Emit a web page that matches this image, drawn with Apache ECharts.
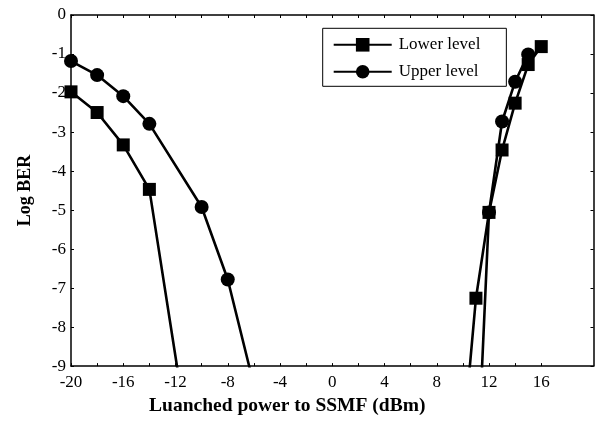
<!DOCTYPE html>
<html>
<head>
<meta charset="utf-8">
<script src="https://cdn.jsdelivr.net/npm/echarts@6/dist/echarts.min.js"></script>
<style>
	html, body { margin: 0; padding: 0; background: #fff; }
	#chart { width: 600px; height: 421px; }
</style>
</head>
<body>
<div id="chart"></div>
<script type="text/javascript">

	// Log BER vs launched power (points below -9 are clipped)
	var lowerX = [-20, -18, -16, -14, -11, 10, 11, 12, 13, 14, 15, 16];
	var lowerY = [-1.97, -2.5, -3.33, -4.47, -10.9, -11, -7.26, -5.06, -3.46, -2.26, -1.27, -0.81];
	var upperX = [-20, -18, -16, -14, -10, -8, -4, 11, 12, 13, 14, 15];
	var upperY = [-1.18, -1.54, -2.08, -2.79, -4.92, -6.78, -12.2, -12.5, -5.06, -2.73, -1.71, -1.01];

	var xTicks = [-20, -18, -16, -14, -12, -10, -8, -6, -4, -2, 0, 2, 4, 6, 8, 10, 12, 14, 16];
	var xLabels = [-20, -16, -12, -8, -4, 0, 4, 8, 12, 16];

	function pairs(xs, ys) {
		var out = [];
		for (var i = 0; i < xs.length; i++) out.push([xs[i], ys[i]]);
		return out;
	}

	var serif = 'Liberation Serif';
	var axisLine = {show: true, onZero: false, lineStyle: {color: '#000', width: 1.5}};
	var tick = {show: true, inside: true, length: 3, lineStyle: {color: '#000', width: 1}};

	var chart = echarts.init(document.getElementById('chart'));
	chart.setOption({
		animation: false,
		backgroundColor: '#fff',
		grid: {left: 71, top: 15, right: 6.5, bottom: 54.3},
		legend: {
			orient: 'vertical',
			left: 322.7,
			top: 28.3,
			padding: [8, 26, 6, 10],
			itemGap: 10,
			itemWidth: 58,
			itemHeight: 17,
			backgroundColor: '#fff',
			borderColor: '#000',
			borderWidth: 1,
			textStyle: {fontFamily: serif, fontSize: 17, color: '#000', padding: [0, 0, 0, 2]},
			data: ['Lower level', 'Upper level']
		},
		xAxis: [
			{
				type: 'value', min: -20, max: 20, interval: 2,
				name: 'Luanched power to SSMF (dBm)',
				nameLocation: 'middle', nameGap: 26,
				nameTextStyle: {fontFamily: serif, fontSize: 19.5, fontWeight: 'bold', color: '#000', padding: [0, 90, 0, 0]},
				axisLine: axisLine,
				axisTick: Object.assign({customValues: xTicks}, tick),
				axisLabel: {customValues: xLabels, margin: 8, fontFamily: serif, fontSize: 17, color: '#000'},
				splitLine: {show: false}
			},
			{
				type: 'value', position: 'top', min: -20, max: 20, interval: 2,
				axisLine: axisLine,
				axisTick: Object.assign({customValues: xTicks}, tick),
				axisLabel: {show: false},
				splitLine: {show: false}
			}
		],
		yAxis: [
			{
				type: 'value', min: -9, max: 0, interval: 1,
				name: 'Log BER',
				nameLocation: 'middle', nameGap: 37, nameRotate: 90,
				nameTextStyle: {fontFamily: serif, fontSize: 18, fontWeight: 'bold', color: '#000'},
				axisLine: axisLine,
				axisTick: tick,
				axisLabel: {margin: 5, fontFamily: serif, fontSize: 17, color: '#000'},
				splitLine: {show: false}
			},
			{
				type: 'value', position: 'right', min: -9, max: 0, interval: 1,
				axisLine: axisLine,
				axisTick: tick,
				axisLabel: {show: false},
				splitLine: {show: false}
			}
		],
		series: [
			{
				name: 'Lower level',
				type: 'line',
				data: pairs(lowerX, lowerY),
				symbol: 'rect',
				symbolSize: 13,
				clip: true,
				itemStyle: {color: '#000'},
				lineStyle: {color: '#000', width: 2.6}
			},
			{
				name: 'Upper level',
				type: 'line',
				data: pairs(upperX, upperY),
				symbol: 'circle',
				symbolSize: 14,
				clip: true,
				itemStyle: {color: '#000'},
				lineStyle: {color: '#000', width: 2.6}
			}
		]
	});

</script>
</body>
</html>
